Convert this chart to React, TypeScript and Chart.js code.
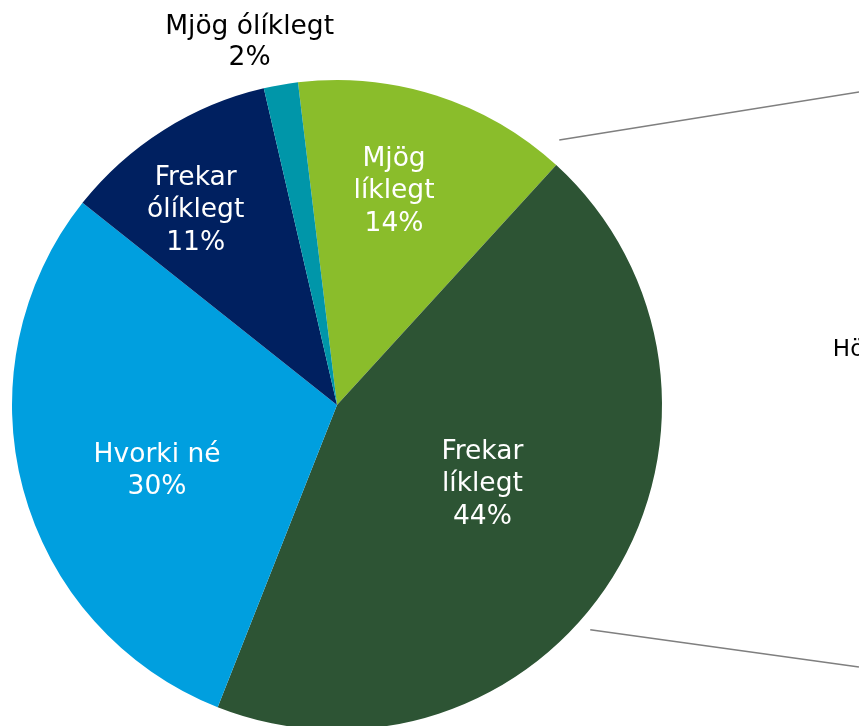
import React, { useEffect, useRef } from "react";
import { Chart, registerables } from "chart.js";

Chart.register(...registerables);

const categories: string[][] = [
  ["Mjög", "líklegt"],
  ["Frekar", "líklegt"],
  ["Hvorki né"],
  ["Frekar", "ólíklegt"],
  ["Mjög ólíklegt"],
];
const shares: number[] = [13.7, 44.2, 29.7, 10.7, 1.7];
const colors: string[] = ["#8ABD2B", "#2D5434", "#009FDF", "#002060", "#0096A9"];
const labelColors: string[] = ["#FFFFFF", "#FFFFFF", "#FFFFFF", "#FFFFFF", "#000000"];
const secondaryLabel = "Hö";

// label placement relative to the slice: [angle shift in deg, radius factor]
const labelPlacement: [number, number][] = [
  [-2.8, 0.68],
  [-3.3, 0.51],
  [-5.2, 0.59],
  [-3.7, 0.74],
  [-3.6, 1.147],
];

const FONT = "'DejaVu Sans', Verdana, sans-serif";

const labelsPlugin = {
  id: "pieLabels",
  afterDatasetsDraw(chart: any) {
    const meta = chart.getDatasetMeta(0);
    const ctx = chart.ctx as CanvasRenderingContext2D;
    const total = shares.reduce((a, b) => a + b, 0);
    ctx.save();
    ctx.font = `26.5px ${FONT}`;
    ctx.textAlign = "center";
    ctx.textBaseline = "middle";
    meta.data.forEach((arc: any, i: number) => {
      const { x, y, startAngle, endAngle, outerRadius } = arc.getProps(
        ["x", "y", "startAngle", "endAngle", "outerRadius"],
        true
      );
      const mid = (startAngle + endAngle) / 2 + (labelPlacement[i][0] * Math.PI) / 180;
      const r = outerRadius * labelPlacement[i][1];
      const cx = x + Math.cos(mid) * r;
      const cy = y + Math.sin(mid) * r;
      const lines = [...categories[i], `${Math.round((shares[i] / total) * 100)}%`];
      const lh = i === 4 ? 31 : 32.5;
      ctx.fillStyle = labelColors[i];
      lines.forEach((t, k) => {
        ctx.fillText(t, cx, cy + (k - (lines.length - 1) / 2) * lh);
      });
    });

    // connector lines toward the secondary chart (off to the right)
    const first = meta.data[0];
    const { x, y, outerRadius } = first.getProps(["x", "y", "outerRadius"], true);
    const polar = (deg: number, f: number) => {
      const a = ((deg - 90) * Math.PI) / 180;
      return [x + Math.cos(a) * outerRadius * f, y + Math.sin(a) * outerRadius * f];
    };
    ctx.strokeStyle = "#7F7F7F";
    ctx.lineWidth = 1.5;
    const segs: [number, number, number, number][] = [
      [40, 1.064, 59.05, 1.873],
      [131.6, 1.042, 116.66, 1.797],
    ];
    segs.forEach(([a1, f1, a2, f2]) => {
      const p1 = polar(a1, f1);
      const p2 = polar(a2, f2);
      ctx.beginPath();
      ctx.moveTo(p1[0], p1[1]);
      ctx.lineTo(p2[0], p2[1]);
      ctx.stroke();
    });

    // secondary chart label (cut off by the frame)
    const lp = polar(83.7, 1.535);
    ctx.font = `23px ${FONT}`;
    ctx.fillStyle = "#000000";
    ctx.textAlign = "left";
    ctx.fillText(secondaryLabel, lp[0], lp[1]);
    ctx.restore();
  },
};

export default function App() {
  const ref = useRef<HTMLCanvasElement | null>(null);
  useEffect(() => {
    if (!ref.current) return;
    const chart = new Chart(ref.current, {
      type: "pie",
      data: {
        labels: categories.map((c) => c.join(" ")),
        datasets: [
          {
            data: shares,
            backgroundColor: colors,
            borderWidth: 0,
          },
        ],
      },
      options: {
        responsive: false,
        animation: false,
        rotation: -6.9,
        layout: { padding: { left: 12, right: 197, top: 80, bottom: 80 } },
        plugins: {
          legend: { display: false },
          tooltip: { enabled: false },
        },
      },
      plugins: [labelsPlugin],
    });
    return () => chart.destroy();
  }, []);
  return (
    <div
      style={{
        position: "fixed",
        left: 0,
        top: 0,
        width: 859,
        height: 726,
        overflow: "hidden",
        background: "#FFFFFF",
      }}
    >
      <canvas ref={ref} width={859} height={810} style={{ display: "block" }} />
    </div>
  );
}
